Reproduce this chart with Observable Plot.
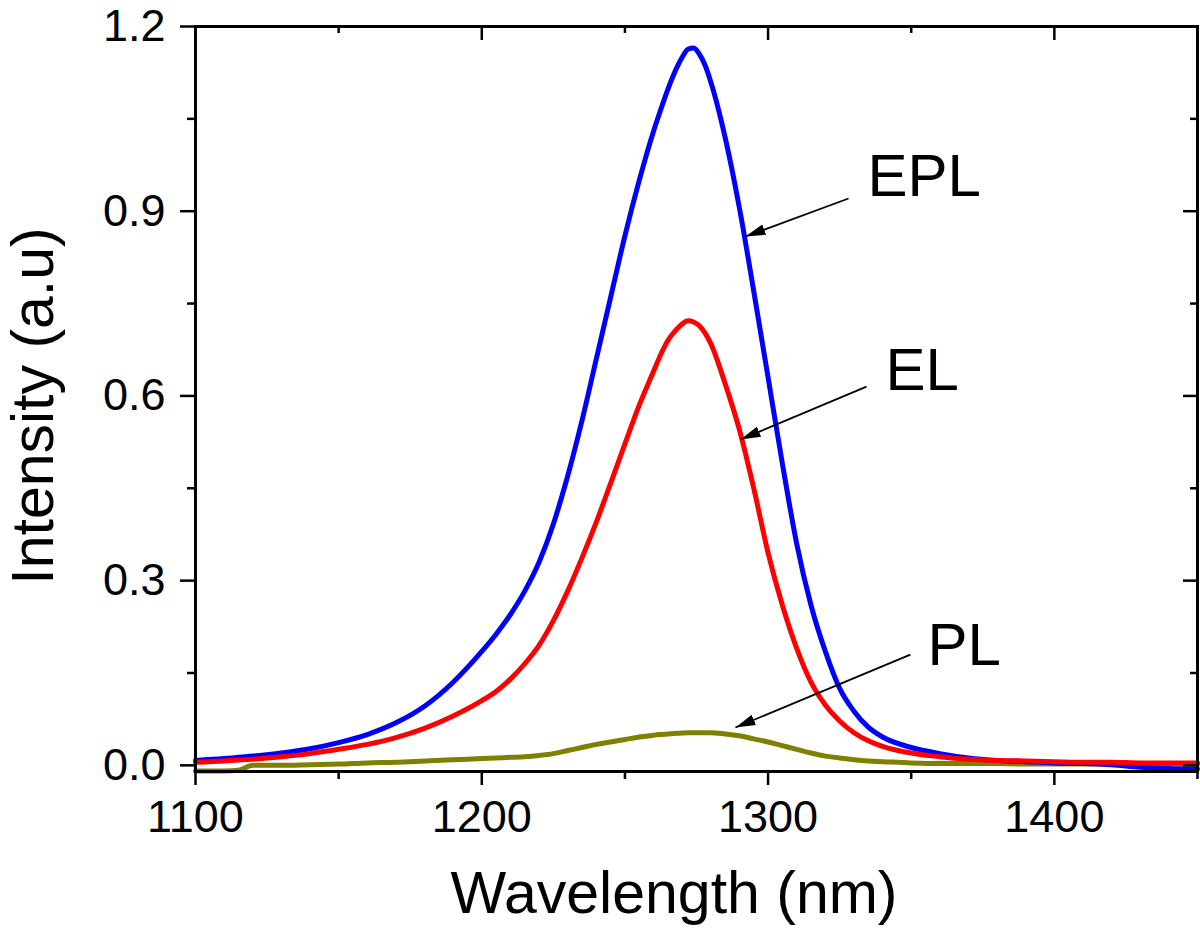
<!DOCTYPE html>
<html>
<head>
<meta charset="utf-8">
<script src="https://cdn.jsdelivr.net/npm/d3@7"></script>
<script src="https://cdn.jsdelivr.net/npm/@observablehq/plot@0.6"></script>
<style>
  html, body { margin: 0; padding: 0; background: #fff; }
</style>
</head>
<body>
<div id="chart"></div>
<script>
// ---- Data ----
const wavelength = [1100,1110,1115,1120,
  1130,1140,1150,1160,1170,1180,1190,1200,
  1205,1210,1215,1220,1225,1230,1235,1240,1245,1250,1255,1260,
  1262,1265,1268,1270,1272,1274,1276,1278,1280,
  1285,1290,1295,1300,1305,1310,1315,1320,1325,1330,1335,1340,
  1350,1360,1370,1380,1390,1400,1410,1420,1430,1440,1450];
const epl = [0.008,0.011,0.013,0.015,
  0.020,0.027,0.037,0.050,0.069,0.096,0.135,0.185,
  0.213,0.245,0.283,0.330,0.392,0.470,0.560,0.660,0.760,0.860,0.950,1.030,
  1.058,1.098,1.132,1.150,1.163,1.165,1.155,1.137,1.110,
  1.020,0.905,0.770,0.630,0.490,0.360,0.260,0.185,0.125,0.088,0.062,0.046,
  0.029,0.019,0.012,0.008,0.006,0.004,0.003,0.001,-0.003,-0.005,-0.006];
const el = [0.005,0.007,0.0085,0.010,
  0.014,0.019,0.026,0.034,0.045,0.060,0.080,0.105,
  0.120,0.140,0.165,0.195,0.235,0.283,0.337,0.395,0.458,0.522,0.585,0.640,
  0.662,0.690,0.708,0.717,0.722,0.720,0.714,0.702,0.685,
  0.620,0.545,0.450,0.345,0.260,0.190,0.135,0.098,0.072,0.053,0.040,0.031,
  0.020,0.014,0.010,0.008,0.007,0.006,0.005,0.005,0.004,0.004,0.004];
const pl = [-0.009,-0.009,-0.008,0.000,
  0.000,0.001,0.002,0.004,0.005,0.007,0.009,0.011,
  0.012,0.013,0.014,0.016,0.019,0.024,0.029,0.034,0.038,0.042,0.046,0.049,
  0.050,0.051,0.052,0.0525,0.053,0.053,0.053,0.053,0.053,
  0.051,0.048,0.043,0.038,0.032,0.026,0.020,0.015,0.012,0.009,0.007,0.006,
  0.004,0.003,0.003,0.003,0.002,0.002,0.002,0.002,0.002,0.002,0.002];

const seriesNames = ["PL", "EPL", "EL"];
const seriesColors = ["#808000", "#0000ff", "#ff0000"];

const xMajor = [1100, 1200, 1300, 1400];
const xMinor = [1150, 1250, 1350, 1450];
const yMajor = [0, 0.3, 0.6, 0.9, 1.2];
const yMinor = [0.15, 0.45, 0.75, 1.05];

// annotations
const annLabels = ["EPL", "EL", "PL"];
const annTextX = [1334.7, 1341, 1355.7];
const annTextY = [0.924, 0.610, 0.1634];
const arrowX1 = [1328.1, 1334.4, 1349.7];
const arrowY1 = [0.9206, 0.6152, 0.1799];
const arrowX2 = [1292.1, 1290.4, 1288.6];
const arrowY2 = [0.8589, 0.5292, 0.0614];

const xLabel = "Wavelength (nm)";
const yLabel = "Intensity (a.u)";

// ---- Build tables ----
const valuesBySeries = {PL: pl, EPL: epl, EL: el};
const rows = [];
for (const name of seriesNames) {
  valuesBySeries[name].forEach((v, i) => rows.push({series: name, w: wavelength[i], v}));
}
const ann = annLabels.map((t, i) => ({t, x: annTextX[i], y: annTextY[i], x1: arrowX1[i], y1: arrowY1[i], x2: arrowX2[i], y2: arrowY2[i]}));

const W = 1200, H = 929;
const mL = 195, mR = 3, mT = 26, mB = 158;
const plotW = W - mL - mR, plotH = H - mT - mB;

const chart = Plot.plot({
  width: W,
  height: H,
  marginLeft: mL,
  marginRight: mR,
  marginTop: mT,
  marginBottom: mB,
  style: {fontFamily: "'Liberation Sans', Arial, Helvetica, sans-serif", background: "#fff", color: "#000"},
  x: {domain: [1100, 1450]},
  y: {domain: [-0.01, 1.2]},
  color: {domain: seriesNames, range: seriesColors},
  marks: [
    // data lines
    Plot.line(rows, {x: "w", y: "v", z: "series", stroke: "series", strokeWidth: 5, curve: "monotone-x", strokeLinejoin: "round", strokeLinecap: "round"}),
    // bottom axis (outward)
    Plot.axisX({ticks: xMajor, tickSize: 14, tickPadding: 15, fontSize: 45, strokeWidth: 2.5, tickFormat: d => String(d), label: null}),
    Plot.axisX({ticks: xMinor, tickSize: 8, strokeWidth: 2.5, tickFormat: () => "", label: null}),
    // left axis (outward)
    Plot.axisY({ticks: yMajor, tickSize: 15, tickPadding: 15, fontSize: 45, strokeWidth: 2.5, tickFormat: d3.format(".1f"), label: null}),
    Plot.axisY({ticks: yMinor, tickSize: 8, strokeWidth: 2.5, tickFormat: () => "", label: null}),
    // top ticks (inward)
    Plot.tickX(xMajor, {x: d => d, insetBottom: plotH - 14, strokeWidth: 2.5}),
    Plot.tickX(xMinor, {x: d => d, insetBottom: plotH - 7, strokeWidth: 2.5}),
    // right ticks (inward)
    Plot.tickY(yMajor, {y: d => d, insetLeft: plotW - 14, strokeWidth: 2.5}),
    Plot.tickY(yMinor, {y: d => d, insetLeft: plotW - 7, strokeWidth: 2.5}),
    Plot.frame({stroke: "#000", strokeWidth: 3}),
    // annotations
    Plot.link(ann, {x1: "x1", y1: "y1", x2: "x2", y2: "y2", stroke: "#000", strokeWidth: 1.8, className: "anno-arrow"}),
    Plot.text(ann, {x: "x", y: "y", text: "t", textAnchor: "start", lineAnchor: "bottom", fontSize: 60, fill: "#000"}),
    // axis titles
    Plot.text([xLabel], {frameAnchor: "bottom", textAnchor: "middle", dx: -22.5, dy: 141, lineAnchor: "bottom", fontSize: 59, fill: "#000"}),
    Plot.text([yLabel], {frameAnchor: "left", textAnchor: "middle", dx: -143, dy: 7, rotate: -90, lineAnchor: "bottom", fontSize: 59, fill: "#000"})
  ]
});

// filled arrowheads for annotation links
const ns = "http://www.w3.org/2000/svg";
const defs = document.createElementNS(ns, "defs");
const marker = document.createElementNS(ns, "marker");
marker.setAttribute("id", "ahead");
marker.setAttribute("viewBox", "0 0 20 11");
marker.setAttribute("refX", "20");
marker.setAttribute("refY", "5.5");
marker.setAttribute("markerWidth", "20");
marker.setAttribute("markerHeight", "11");
marker.setAttribute("markerUnits", "userSpaceOnUse");
marker.setAttribute("orient", "auto");
const mp = document.createElementNS(ns, "path");
mp.setAttribute("d", "M0,0L20,5.5L0,11Z");
mp.setAttribute("fill", "#000");
marker.appendChild(mp);
defs.appendChild(marker);
chart.insertBefore(defs, chart.firstChild);
chart.querySelectorAll(".anno-arrow path, .anno-arrow line").forEach(p => p.setAttribute("marker-end", "url(#ahead)"));

document.getElementById("chart").appendChild(chart);
</script>
</body>
</html>
